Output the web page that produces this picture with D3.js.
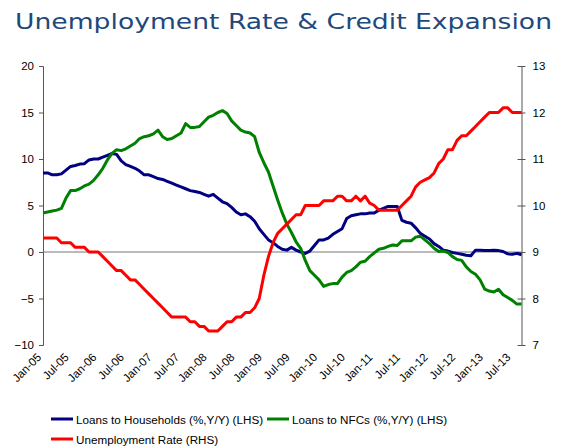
<!DOCTYPE html>
<html>
<head>
<meta charset="utf-8">
<script src="https://cdn.jsdelivr.net/npm/d3@7/dist/d3.min.js"></script>
<style>
  body { margin: 0; background: #fff; }
  svg { display: block; }
  .tick text { font-family: "Liberation Sans", Arial, sans-serif; font-size: 11.5px; fill: #000; }
</style>
</head>
<body>
<div id="chart"></div>
<script>
// monthly, Jan-05 .. Sep-13
const months = d3.timeMonth.range(new Date(2005, 0, 1), new Date(2013, 9, 1));

const households = [
  8.5, 8.5, 8.3, 8.3, 8.4, 8.8, 9.2, 9.3, 9.45, 9.5, 9.9, 10.0,
  10.0, 10.2, 10.4, 10.6, 10.5, 9.8, 9.4, 9.2, 9.0, 8.7, 8.3, 8.3,
  8.1, 7.9, 7.8, 7.6, 7.4, 7.2, 7.0, 6.8, 6.6, 6.5, 6.4, 6.2,
  6.0, 6.2, 5.8, 5.4, 5.2, 4.8, 4.3, 4.0, 4.1, 3.8, 3.3, 2.5,
  1.9, 1.3, 1.0, 0.6, 0.3, 0.2, 0.5, 0.2, 0.0, -0.15, 0.1, 0.7,
  1.3, 1.3, 1.5, 1.9, 2.2, 2.5, 3.6, 3.9, 4.0, 4.1, 4.1, 4.2,
  4.2, 4.5, 4.7, 4.9, 4.9, 4.9, 3.4, 3.2, 3.1, 2.6, 2.0, 1.7,
  1.4, 0.9, 0.6, 0.2, 0.1, -0.05, -0.15, -0.25, -0.35, -0.4, 0.2, 0.2,
  0.15, 0.15, 0.2, 0.15, 0.05, -0.2, -0.25, -0.15, -0.3
];

const nfcs = [
  4.2, 4.3, 4.4, 4.5, 4.7, 5.8, 6.6, 6.6, 6.8, 7.1, 7.3, 7.7,
  8.3, 9.0, 9.9, 10.6, 11.0, 10.9, 11.1, 11.4, 11.7, 12.2, 12.4, 12.5,
  12.7, 13.1, 12.4, 12.1, 12.2, 12.5, 12.8, 13.8, 13.4, 13.4, 13.5, 14.0,
  14.5, 14.7, 15.0, 15.2, 14.9, 14.1, 13.6, 13.1, 12.9, 12.8, 12.4, 10.7,
  9.6, 8.6, 7.1, 5.6, 4.2, 3.0, 2.1, 1.1, 0.4, -0.9, -2.0, -2.5,
  -3.0, -3.7, -3.5, -3.4, -3.4, -2.7, -2.2, -2.0, -1.6, -1.1, -1.0, -0.5,
  -0.1, 0.3, 0.4, 0.6, 0.75, 0.7, 1.2, 1.2, 1.2, 1.6, 1.7, 1.3,
  0.9, 0.4, 0.05, 0.1, -0.05, -0.5, -0.8, -0.9, -1.6, -2.1, -2.4, -3.0,
  -4.0, -4.2, -4.3, -4.0, -4.6, -4.9, -5.2, -5.6, -5.6
];

const unemployment = [
  9.3, 9.3, 9.3, 9.3, 9.2, 9.2, 9.2, 9.1, 9.1, 9.1, 9.0, 9.0,
  9.0, 8.9, 8.8, 8.7, 8.6, 8.6, 8.5, 8.4, 8.4, 8.3, 8.2, 8.1,
  8.0, 7.9, 7.8, 7.7, 7.6, 7.6, 7.6, 7.6, 7.5, 7.5, 7.4, 7.4,
  7.3, 7.3, 7.3, 7.4, 7.5, 7.5, 7.6, 7.6, 7.7, 7.7, 7.8, 8.0,
  8.5, 8.9, 9.2, 9.4, 9.5, 9.6, 9.7, 9.8, 9.8, 10.0, 10.0, 10.0,
  10.0, 10.1, 10.1, 10.1, 10.2, 10.2, 10.1, 10.1, 10.2, 10.1, 10.2, 10.05,
  10.0, 9.9, 9.9, 9.9, 9.9, 9.9, 10.0, 10.1, 10.2, 10.4, 10.5, 10.55,
  10.6, 10.7, 10.9, 11.0, 11.2, 11.2, 11.4, 11.5, 11.5, 11.6, 11.7, 11.8,
  11.9, 12.0, 12.0, 12.0, 12.1, 12.1, 12.0, 12.0, 12.0
];

const leftTicks = [-10, -5, 0, 5, 10, 15, 20];
const rightTicks = [7, 8, 9, 10, 11, 12, 13];
const labelMonths = months.filter((d, i) => i % 6 === 0);

const series = [
  { name: "Loans to Households (%,Y/Y) (LHS)", values: households, color: "#000080", axis: "left" },
  { name: "Loans to NFCs (%,Y/Y) (LHS)", values: nfcs, color: "#008000", axis: "left" },
  { name: "Unemployment Rate (RHS)", values: unemployment, color: "#ff0000", axis: "right" }
];

const width = 561, height = 446;
const svg = d3.select("#chart").append("svg")
  .attr("width", width)
  .attr("height", height);

svg.append("text")
  .attr("x", 15)
  .attr("y", 29)
  .attr("font-family", "Verdana, 'DejaVu Sans', sans-serif")
  .attr("font-size", 22)
  .attr("fill", "#1f497d")
  .attr("textLength", 537)
  .attr("lengthAdjust", "spacingAndGlyphs")
  .text("Unemployment Rate & Credit Expansion");

const x = d3.scalePoint().domain(months).range([43, 521.5]);
const yL = d3.scaleLinear().domain([-10, 20]).range([345, 66]);
const yR = d3.scaleLinear().domain([7, 13]).range([345, 66]);

const axisColor = "#555";

const gL = svg.append("g")
  .attr("transform", "translate(43,0)")
  .call(d3.axisLeft(yL).tickValues(leftTicks).tickSize(4).tickPadding(5));
gL.select(".domain").attr("stroke", axisColor);
gL.selectAll(".tick line").attr("stroke", axisColor);

const gR = svg.append("g")
  .attr("transform", "translate(521.5,0)")
  .call(d3.axisRight(yR).tickValues(rightTicks).tickFormat(d3.format("d"))
    .tickSize(4).tickPadding(7).tickSizeOuter(0));
gR.select(".domain").attr("stroke", axisColor);
gR.selectAll(".tick line").attr("stroke", axisColor).attr("x1", -4);

// zero line / category axis
svg.append("line")
  .attr("x1", 43).attr("x2", 521.5)
  .attr("y1", yL(0)).attr("y2", yL(0))
  .attr("stroke", "#777");

const fmt = d3.timeFormat("%b-%y");
svg.append("g")
  .selectAll("text")
  .data(labelMonths)
  .enter()
  .append("text")
  .attr("transform", d => `translate(${x(d) - 1},${yL(-10) + 13}) rotate(-45)`)
  .attr("text-anchor", "end")
  .attr("font-family", "'Liberation Sans', Arial, sans-serif")
  .attr("font-size", 11.5)
  .text(d => fmt(d));

series.forEach(s => {
  const y = s.axis === "left" ? yL : yR;
  const line = d3.line()
    .x((d, i) => x(months[i]))
    .y(d => y(d));
  svg.append("path")
    .datum(s.values)
    .attr("fill", "none")
    .attr("stroke", s.color)
    .attr("stroke-width", 3)
    .attr("stroke-linejoin", "round")
    .attr("d", line);
});

// legend
const legendPos = [[51, 419], [267, 419], [51, 439]];
const legend = svg.append("g");
series.forEach((s, i) => {
  const [lx, ly] = legendPos[i];
  legend.append("line")
    .attr("x1", lx).attr("x2", lx + 22)
    .attr("y1", ly).attr("y2", ly)
    .attr("stroke", s.color)
    .attr("stroke-width", 3);
  legend.append("text")
    .attr("x", lx + 25)
    .attr("y", ly + 4.5)
    .attr("font-family", "'Liberation Sans', Arial, sans-serif")
    .attr("font-size", 11.7)
    .text(s.name);
});
</script>
</body>
</html>
